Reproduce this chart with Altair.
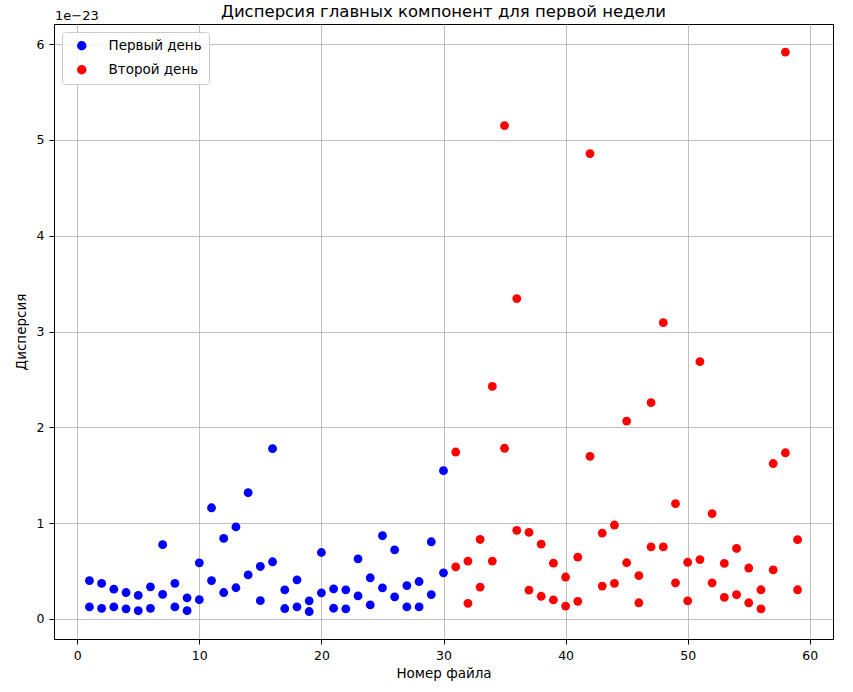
import altair as alt
import pandas as pd

# File numbers
files_day1 = [1, 2, 3, 4, 5, 6, 7, 8, 9, 10, 11, 12, 13, 14, 15,
              16, 17, 18, 19, 20, 21, 22, 23, 24, 25, 26, 27, 28, 29, 30]
files_day2 = [31, 32, 33, 34, 35, 36, 37, 38, 39, 40, 41, 42, 43, 44, 45,
              46, 47, 48, 49, 50, 51, 52, 53, 54, 55, 56, 57, 58, 59]

# Variance values in units of 1e-23 (two components per file)
day1_a = [0.40, 0.37, 0.31, 0.275, 0.245, 0.335, 0.775, 0.37, 0.22, 0.585,
          1.16, 0.84, 0.96, 1.317, 0.547, 1.777, 0.303, 0.408, 0.188, 0.693,
          0.314, 0.303, 0.627, 0.429, 0.868, 0.721, 0.348, 0.39, 0.805, 1.547]
day1_b = [0.125, 0.11, 0.125, 0.105, 0.085, 0.11, 0.255, 0.125, 0.085, 0.20,
          0.40, 0.275, 0.325, 0.46, 0.19, 0.596, 0.108, 0.125, 0.077, 0.272,
          0.111, 0.105, 0.24, 0.146, 0.324, 0.23, 0.125, 0.125, 0.254, 0.481]
day2_a = [1.742, 0.603, 0.829, 2.427, 5.15, 3.344, 0.903, 0.78, 0.582, 0.437,
          0.645, 4.857, 0.896, 0.98, 2.065, 0.451, 2.257, 3.092, 1.203, 0.591,
          2.685, 1.099, 0.579, 0.735, 0.531, 0.304, 1.622, 5.917, 0.827]
day2_b = [0.543, 0.162, 0.332, 0.603, 1.781, 0.924, 0.30, 0.236, 0.198, 0.134,
          0.183, 1.697, 0.342, 0.37, 0.586, 0.168, 0.751, 0.751, 0.376, 0.188,
          0.619, 0.376, 0.224, 0.252, 0.168, 0.104, 0.511, 1.734, 0.304]

series_names = ["Первый день", "Второй день"]
series_colors = ["blue", "red"]
x_ticks = [0, 10, 20, 30, 40, 50, 60]
y_ticks = [0, 1, 2, 3, 4, 5, 6]
chart_title = "Дисперсия главных компонент для первой недели"
offset_label = "1e\u221223"

rows = []
for f, a, b in zip(files_day1, day1_a, day1_b):
    rows.append({"file": f, "var": a, "day": series_names[0]})
    rows.append({"file": f, "var": b, "day": series_names[0]})
for f, a, b in zip(files_day2, day2_a, day2_b):
    rows.append({"file": f, "var": a, "day": series_names[1]})
    rows.append({"file": f, "var": b, "day": series_names[1]})
df = pd.DataFrame(rows)

FONT = "DejaVu Sans"
W, H = 779, 615

points = alt.Chart(df).mark_circle(size=78, opacity=1).encode(
    x=alt.X("file:Q",
            scale=alt.Scale(domain=[-1.9, 61.9], nice=False, zero=False),
            axis=alt.Axis(values=x_ticks, title="Номер файла", format="d")),
    y=alt.Y("var:Q",
            scale=alt.Scale(domain=[-0.21, 6.21], nice=False, zero=False),
            axis=alt.Axis(values=y_ticks, title="Дисперсия", format="d")),
    color=alt.Color("day:N",
                    scale=alt.Scale(domain=series_names, range=series_colors),
                    sort=series_names,
                    legend=alt.Legend(title=None, orient="top-left", offset=8,
                                      fillColor="rgba(255,255,255,0.8)",
                                      strokeColor="#cccccc", cornerRadius=3,
                                      padding=7, symbolSize=90, symbolType="circle",
                                      symbolOffset=6,
                                      labelFontSize=13.5, labelFont=FONT,
                                      labelColor="black",
                                      labelOffset=20, rowPadding=9,
                                      symbolStrokeWidth=0)),
)

offset_text = alt.Chart(pd.DataFrame({"t": [offset_label]})).mark_text(
    align="left", baseline="alphabetic", fontSize=13, font=FONT, color="black"
).encode(x=alt.value(1), y=alt.value(-4), text="t:N")

title_text = alt.Chart(pd.DataFrame({"t": [chart_title]})).mark_text(
    align="center", baseline="alphabetic", fontSize=16.5, font=FONT, color="black"
).encode(x=alt.value(W / 2), y=alt.value(-7), text="t:N")

chart = alt.layer(points, offset_text, title_text).properties(
    width=W, height=H,
    padding={"left": 54, "top": 24, "right": 20, "bottom": 53},
    autosize=alt.AutoSizeParams(type="none"),
).configure_view(
    stroke="black", strokeWidth=1
).configure_axis(
    grid=True, gridColor="#b0b0b0", gridWidth=0.8,
    domainColor="black", tickColor="black", tickSize=5,
    labelColor="black", labelFont=FONT, labelFontSize=12.5,
    titleFont=FONT, titleFontSize=13.5, titleFontWeight="normal", titleColor="black",
    labelPadding=5
).configure_axisX(
    titlePadding=5
).configure_axisY(
    titlePadding=8
)

chart.save("out.html", embed_options={"renderer": "svg", "actions": False})
